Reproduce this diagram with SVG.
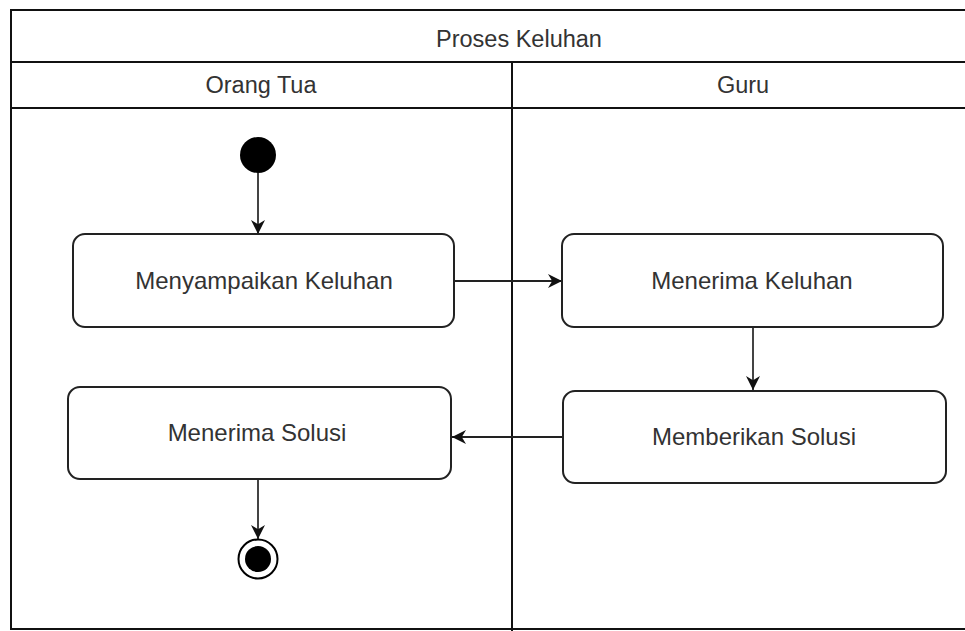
<svg xmlns="http://www.w3.org/2000/svg" width="965" height="631" viewBox="0 0 965 631">
<style>
.frame{fill:none;stroke:#111;stroke-width:2}
.node{fill:#fff;stroke:#222;stroke-width:2}
.lbl{font-family:"Liberation Sans",Arial,sans-serif;font-size:24px;fill:#333;text-anchor:middle}
.hdr{font-family:"Liberation Sans",Arial,sans-serif;font-size:23.5px;fill:#333;text-anchor:middle}
.edge{fill:none;stroke:#222;stroke-width:2;marker-end:url(#arr)}
.vedge{stroke:#444}
</style>
<defs>
<marker id="arr" viewBox="0 0 10 10" refX="10" refY="5" markerWidth="7" markerHeight="7" markerUnits="strokeWidth" orient="auto">
<path d="M0,0 L10,5 L0,10 L3,5 Z" fill="#111"/>
</marker>
</defs>
<rect width="965" height="631" fill="#fff"/>
<g id="pool">
<rect class="frame" x="11" y="10" width="970" height="619"/>
<line class="frame" x1="11" y1="62" x2="965" y2="62"/>
<line class="frame" x1="11" y1="108" x2="965" y2="108"/>
<line class="frame" x1="512" y1="62" x2="512" y2="631"/>
<text class="hdr" x="519" y="47">Proses Keluhan</text>
</g>
<g id="lane-orang-tua"><text class="hdr" x="261" y="93">Orang Tua</text></g>
<g id="lane-guru"><text class="hdr" x="743" y="93">Guru</text></g>
<g id="connectors">
<line class="edge vedge" x1="258" y1="173" x2="258" y2="234"/>
<line class="edge" x1="454" y1="281" x2="562" y2="281"/>
<line class="edge vedge" x1="753" y1="327" x2="753" y2="390"/>
<line class="edge" x1="563" y1="437" x2="452" y2="437"/>
<line class="edge vedge" x1="258" y1="479" x2="258" y2="539"/>
</g>
<g id="start"><circle cx="258" cy="155" r="18" fill="#000"/></g>
<g id="menyampaikan-keluhan">
<rect class="node" x="73" y="234" width="381" height="93" rx="12"/>
<text class="lbl" x="264" y="289">Menyampaikan Keluhan</text>
</g>
<g id="menerima-keluhan">
<rect class="node" x="562" y="234" width="381" height="93" rx="12"/>
<text class="lbl" x="752" y="289">Menerima Keluhan</text>
</g>
<g id="memberikan-solusi">
<rect class="node" x="563" y="391" width="383" height="92" rx="12"/>
<text class="lbl" x="754" y="445">Memberikan Solusi</text>
</g>
<g id="menerima-solusi">
<rect class="node" x="68" y="387" width="383" height="92" rx="12"/>
<text class="lbl" x="257" y="441">Menerima Solusi</text>
</g>
<g id="end">
<circle cx="258" cy="559" r="19.5" fill="#fff" stroke="#000" stroke-width="2"/>
<circle cx="258" cy="559" r="13" fill="#000"/>
</g>
</svg>
